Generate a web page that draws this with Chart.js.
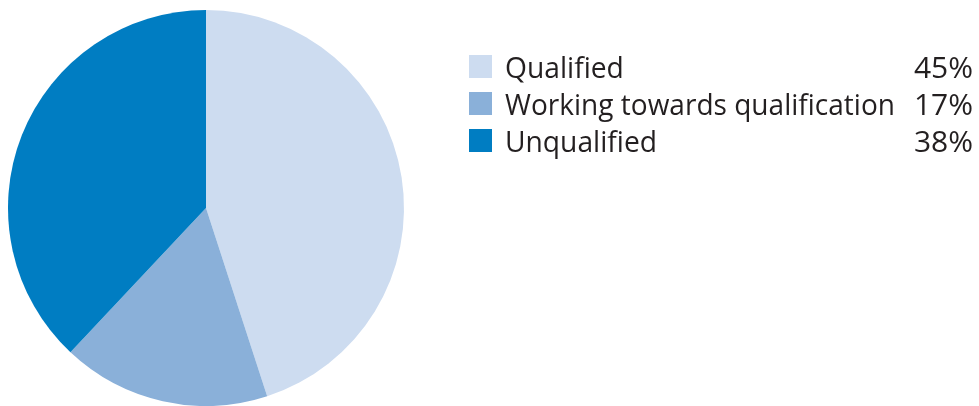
<!DOCTYPE html>
<html>
<head>
<meta charset="utf-8">
<script src="https://cdn.jsdelivr.net/npm/chart.js@4"></script>
<style>
  html, body { margin: 0; padding: 0; background: #fff; }
  #wrap { width: 979px; height: 406px; position: relative; }
</style>
</head>
<body>
<div id="wrap"><canvas id="pie"></canvas></div>
<script>
// Datos
const categories = ['Qualified', 'Working towards qualification', 'Unqualified'];
const shares = [45, 17, 38];
const colours = ['#cddcf0', '#8ab0d9', '#007dc2'];

// Leyenda dibujada a mano: cuadrado, etiqueta y porcentaje alineado a la derecha
const sideLegend = {
    id: 'sideLegend',
    afterDraw(chart) {
        const ctx = chart.ctx;
        const labels = chart.data.labels;
        const values = chart.data.datasets[0].data;
        const bg = chart.data.datasets[0].backgroundColor;
        ctx.save();
        ctx.font = '30px "Open Sans", sans-serif';
        ctx.textBaseline = 'alphabetic';
        labels.forEach((label, i) => {
            const base = 78 + i * 37;
            ctx.fillStyle = bg[i];
            ctx.fillRect(469, base - 23, 23, 23);
            ctx.fillStyle = '#231f20';
            ctx.textAlign = 'left';
            const w = ctx.measureText(label).width;
            const maxW = label.length > 20 ? 390 : w * 0.94;
            ctx.fillText(label, 505, base, maxW);
            ctx.textAlign = 'right';
            ctx.fillText(values[i] + '%', 973, base);
        });
        ctx.restore();
    }
};

new Chart(document.getElementById('pie'), {
    type: 'pie',
    data: {
        labels: categories,
        datasets: [{
            data: shares,
            backgroundColor: colours,
            borderWidth: 0
        }]
    },
    options: {
        responsive: true,
        maintainAspectRatio: false,
        animation: false,
        layout: {
            padding: { left: 8, top: 10, right: 575, bottom: 0 }
        },
        plugins: {
            legend: { display: false },
            tooltip: { enabled: false }
        }
    },
    plugins: [sideLegend]
});
</script>
</body>
</html>
